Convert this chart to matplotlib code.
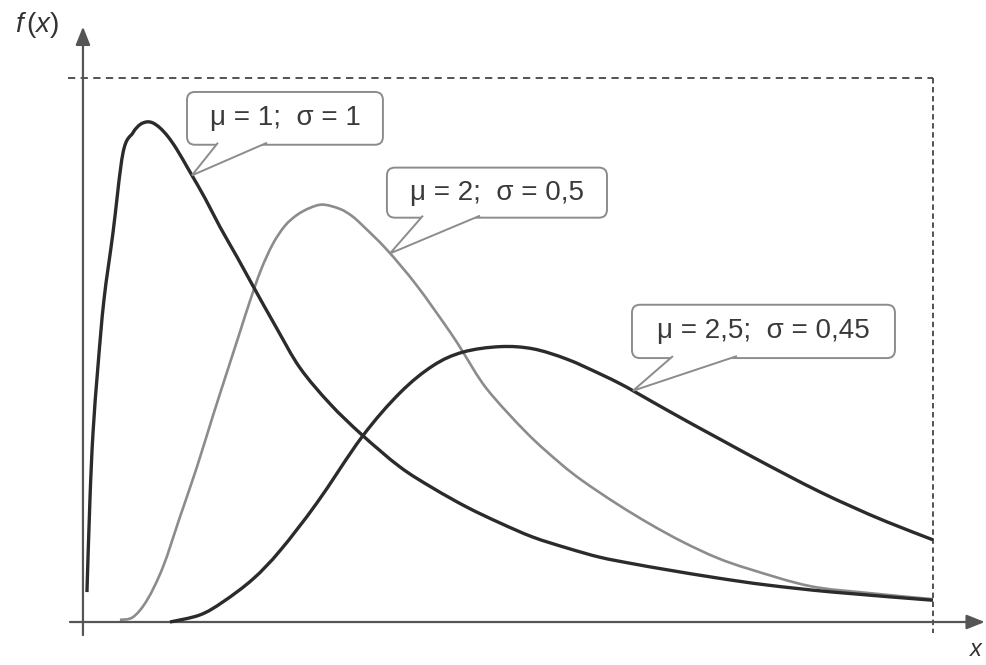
import numpy as np
import matplotlib.pyplot as plt
from matplotlib.patches import FancyBboxPatch, Polygon, PathPatch
from matplotlib.path import Path

plt.rcParams['font.family'] = ['Liberation Sans', 'DejaVu Sans']
plt.rcParams['mathtext.fontset'] = 'custom'
plt.rcParams['mathtext.it'] = 'Liberation Sans:italic'
plt.rcParams['mathtext.rm'] = 'Liberation Sans'

# density curves, x in 0..10, f(x) in 0..1 (dashed frame = upper bounds)
curve1_x = [0.047, 0.082, 0.118, 0.176, 0.247, 0.353, 0.471, 0.588, 0.671, 0.753, 0.824, 0.906,
            1.0, 1.106, 1.259, 1.435, 1.612, 1.812, 1.988, 2.282, 2.553, 2.906, 3.282, 3.729,
            4.118, 4.518, 4.906, 5.294, 5.694, 6.082, 6.471, 6.871, 7.459, 8.047, 8.824, 10.0]
curve1_y = [0.055, 0.224, 0.347, 0.469, 0.592, 0.715, 0.862, 0.899, 0.914, 0.919, 0.917, 0.908,
            0.892, 0.868, 0.827, 0.779, 0.726, 0.671, 0.621, 0.539, 0.467, 0.401, 0.344, 0.285,
            0.246, 0.211, 0.182, 0.156, 0.136, 0.119, 0.107, 0.096, 0.081, 0.068, 0.055, 0.040]

curve2_x = [0.435, 0.588, 0.753, 0.941, 1.141, 1.341, 1.529, 1.729, 1.847, 1.965, 2.094, 2.235,
            2.376, 2.518, 2.671, 2.824, 3.024, 3.165, 3.294, 3.576, 3.929, 4.318, 4.471, 4.753,
            5.224, 5.612, 5.882, 6.282, 6.671, 7.059, 7.459, 7.847, 8.553, 9.259, 10.0]
curve2_y = [0.004, 0.009, 0.040, 0.101, 0.193, 0.285, 0.379, 0.476, 0.533, 0.590, 0.647, 0.695,
            0.728, 0.748, 0.761, 0.767, 0.759, 0.746, 0.728, 0.684, 0.618, 0.533, 0.496, 0.428,
            0.347, 0.292, 0.259, 0.217, 0.180, 0.147, 0.118, 0.097, 0.066, 0.053, 0.042]

curve3_x = [1.024, 1.376, 1.647, 2.0, 2.318, 2.753, 3.282, 3.729, 4.118, 4.471, 4.906, 5.294,
            5.694, 6.082, 6.318, 6.471, 6.706, 7.106, 7.494, 7.882, 8.282, 8.671, 9.059, 9.459, 10.0]
curve3_y = [0.0, 0.013, 0.037, 0.079, 0.131, 0.219, 0.340, 0.421, 0.471, 0.496, 0.506, 0.502,
            0.483, 0.456, 0.438, 0.425, 0.404, 0.369, 0.336, 0.303, 0.270, 0.239, 0.211, 0.184, 0.151]

labels = ["μ = 1;  σ = 1", "μ = 2;  σ = 0,5", "μ = 2,5;  σ = 0,45"]

dark = "#2b2b2b"
grey = "#8c8c8c"
axis_col = "#555555"

fig = plt.figure(figsize=(9.86, 6.65), dpi=100)
ax = fig.add_axes([0, 0, 1, 1])
ax.set_xlim(-0.976, 10.624)
ax.set_ylim(-0.079, 1.143)
ax.axis("off")

# px per data unit, used to keep the box corners round
sx, sy = 85.0, 544.0

# axes with arrow heads
arrow = dict(arrowstyle="-|>,head_length=0.55,head_width=0.22", mutation_scale=20,
             lw=1.6, color=axis_col, shrinkA=0, shrinkB=0)
ax.annotate("", xy=(10.61, 0), xytext=(-0.153, 0), arrowprops=arrow)
ax.annotate("", xy=(0, 1.094), xytext=(0, -0.024), arrowprops=arrow)

# dashed upper bounds
ax.plot([-0.176, 10], [1, 1], ls=(0, (4, 3)), lw=1.3, color="#444444")
ax.plot([10, 10], [1, -0.02], ls=(0, (3, 2)), lw=1.3, color="#444444")

ax.text(-0.80, 1.097, r"$f\,(x)$", fontsize=20, color="#333333", va="center", ha="left")
ax.text(10.61, -0.052, r"$x$", fontsize=17, color="#333333", va="center", ha="right")


def smooth_curve(xs, ys, color, lw, z):
    # Catmull-Rom through the points, drawn as cubic Bezier segments
    pts = np.column_stack([xs, ys])
    n = len(pts)
    verts = [pts[0]]
    codes = [Path.MOVETO]
    for i in range(n - 1):
        p0 = pts[max(i - 1, 0)]
        p1 = pts[i]
        p2 = pts[i + 1]
        p3 = pts[min(i + 2, n - 1)]
        verts += [p1 + (p2 - p0) / 6, p2 - (p3 - p1) / 6, p2]
        codes += [Path.CURVE4] * 3
    patch = PathPatch(Path(verts, codes), fill=False, ec=color, lw=lw,
                      capstyle="butt", joinstyle="round", zorder=z)
    ax.add_patch(patch)


smooth_curve(curve2_x, curve2_y, grey, 1.9, 2)
smooth_curve(curve1_x, curve1_y, dark, 2.4, 3)
smooth_curve(curve3_x, curve3_y, dark, 2.4, 3)


def bubble(x0, x1, y0, y1, base_l, base_r, tip_x, cx, cy, text):
    tip_y = np.interp(tip_x, cx, cy)
    box = FancyBboxPatch((x0, y0), x1 - x0, y1 - y0,
                         boxstyle=f"round,pad=0,rounding_size={8 / sx}",
                         mutation_aspect=sx / sy, fc="white", ec=grey, lw=1.4, zorder=4)
    ax.add_patch(box)
    eps = 2 / sy
    tail = Polygon([(base_l, y0 + eps), (tip_x, tip_y), (base_r, y0 + eps)], closed=False,
                   fc="white", ec=grey, lw=1.4, zorder=5)
    ax.add_patch(tail)
    ax.text((x0 + x1) / 2, (y0 + y1) / 2, text, fontsize=20, color="#3a3a3a",
            ha="center", va="center", zorder=6)


bubble(1.224, 3.529, 0.877, 0.974, 1.588, 2.165, 1.282, curve1_x, curve1_y, labels[0])
bubble(3.576, 6.165, 0.743, 0.835, 4.0, 4.671, 3.612, curve2_x, curve2_y, labels[1])
bubble(6.459, 9.553, 0.485, 0.583, 6.941, 7.694, 6.471, curve3_x, curve3_y, labels[2])

fig.savefig("out.png", dpi=100)
